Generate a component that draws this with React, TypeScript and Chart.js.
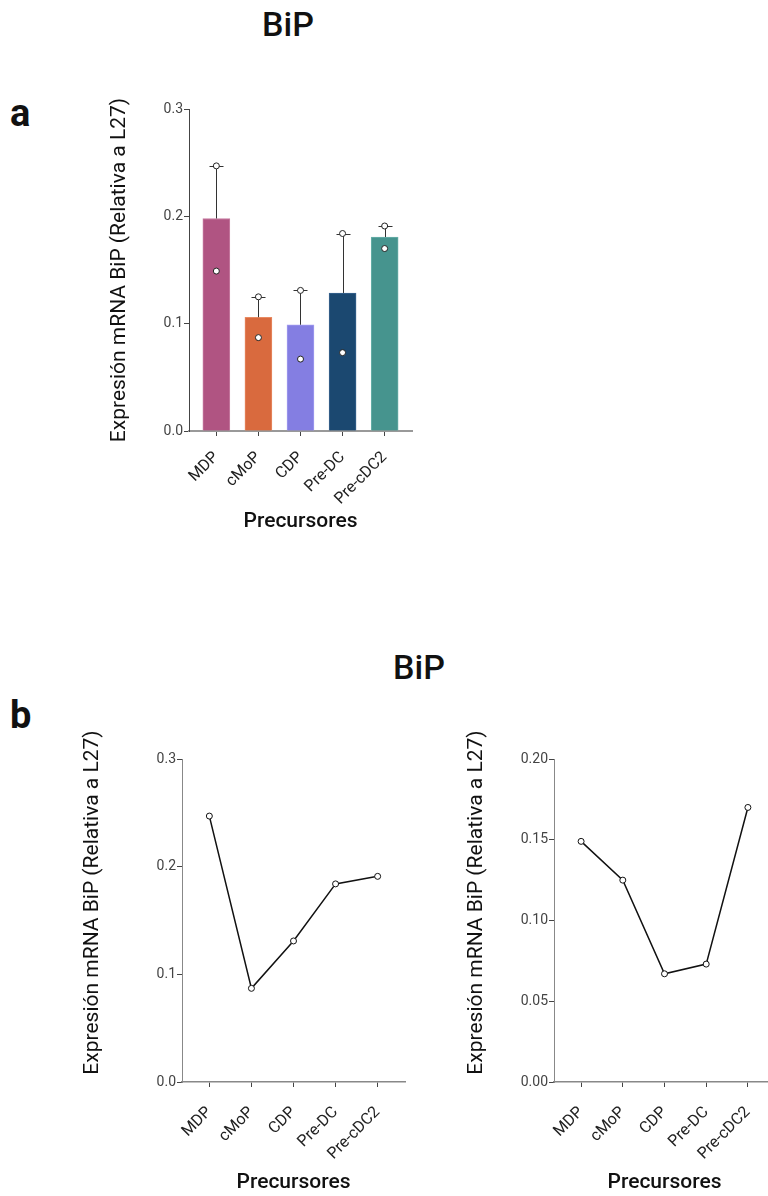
import React, { useEffect, useRef } from 'react';
import { Chart, registerables } from 'chart.js';

Chart.register(...registerables);

const categories = ['MDP', 'cMoP', 'CDP', 'Pre-DC', 'Pre-cDC2'];
const barMeans = [0.198, 0.106, 0.099, 0.1286, 0.1807];
const replicate1 = [0.247, 0.087, 0.131, 0.184, 0.191];
const replicate2 = [0.149, 0.125, 0.067, 0.073, 0.17];
const barColors = ['#B05482', '#D96A3E', '#847EE2', '#1B4870', '#46948E'];
const barEdgeColors = ['#C77BA1', '#E88A62', '#A29DF0', '#3A6590', '#6AB0AA'];
const yTitle = 'Expresión mRNA BiP (Relativa a L27)';
const xTitle = 'Precursores';
const chartTitle = 'BiP';

const FONT = 'Roboto, "Noto Sans", sans-serif';
Chart.defaults.font.family = FONT;

function xScale(axisHeight: number, borderColor: string, borderWidth: number, titlePadBottom: number, labelPad: number) {
  return {
    type: 'linear',
    min: -0.65,
    max: 4.65,
    offset: false,
    afterBuildTicks: (s: any) => {
      s.ticks = categories.map((_, i) => ({ value: i }));
    },
    afterFit: (s: any) => {
      s.height = axisHeight;
    },
    ticks: {
      autoSkip: false,
      minRotation: 45,
      maxRotation: 45,
      padding: labelPad,
      color: '#222',
      font: { family: FONT, size: 16 },
      callback: (v: any) => categories[v] ?? '',
    },
    grid: { display: true, offset: false, drawOnChartArea: false, drawTicks: true, tickLength: 5, color: '#444' },
    border: { display: true, color: borderColor, width: borderWidth },
    title: {
      display: true,
      text: xTitle,
      color: '#111',
      font: { family: FONT, size: 21, weight: '500' },
      padding: { top: 0, bottom: titlePadBottom },
    },
  };
}

function yScale(
  max: number,
  step: number,
  decimals: number,
  axisWidth: number,
  titlePadTop: number,
  borderColor: string,
  titleShift: number
) {
  return {
    type: 'linear',
    min: 0,
    max,
    afterFit: (s: any) => {
      s.width = axisWidth;
    },
    afterUpdate: (s: any) => {
      if (titleShift && !s.__titlePatched) {
        const orig = s.drawTitle.bind(s);
        s.drawTitle = () => {
          const c = s.ctx;
          c.save();
          c.translate(0, titleShift);
          orig();
          c.restore();
        };
        s.__titlePatched = true;
      }
    },
    ticks: {
      stepSize: step,
      color: '#444',
      font: { family: FONT, size: 14 },
      padding: 1,
      callback: (v: any) => Number(v).toFixed(decimals),
    },
    grid: { display: true, drawOnChartArea: false, drawTicks: true, tickLength: 5, color: '#444' },
    border: { display: true, color: borderColor, width: 1 },
    title: {
      display: true,
      text: yTitle,
      color: '#111',
      font: { family: FONT, size: 21 },
      padding: { top: titlePadTop, bottom: 0 },
    },
  };
}

const errorBarPlugin = {
  id: 'errorBars',
  afterDatasetDraw(chart: any, args: any) {
    if (args.index !== 0) return;
    const { ctx } = chart;
    const x = chart.scales.x;
    const y = chart.scales.y;
    ctx.save();
    ctx.strokeStyle = '#333';
    ctx.lineWidth = 1;
    categories.forEach((_, i) => {
      const upper = Math.max(replicate1[i], replicate2[i]);
      const px = Math.round(x.getPixelForValue(i)) + 0.5;
      const y0 = y.getPixelForValue(barMeans[i]);
      const y1 = Math.round(y.getPixelForValue(upper)) + 0.5;
      ctx.beginPath();
      ctx.moveTo(px, y0);
      ctx.lineTo(px, y1);
      ctx.moveTo(px - 7, y1);
      ctx.lineTo(px + 7, y1);
      ctx.stroke();
    });
    ctx.restore();
  },
};

function baseOptions(padding: any, scales: any) {
  return {
    responsive: false,
    maintainAspectRatio: false,
    animation: false,
    events: [],
    layout: { padding },
    plugins: { legend: { display: false }, tooltip: { enabled: false }, title: { display: false } },
    scales,
  };
}

const barConfig = () => ({
  type: 'bar',
  data: {
    datasets: [
      {
        type: 'bar',
        data: categories.map((_, i) => ({ x: i, y: barMeans[i] })),
        backgroundColor: barColors,
        borderColor: barEdgeColors,
        borderWidth: 1,
        barThickness: 27,
        order: 1,
      },
      {
        type: 'line',
        data: [
          ...categories.map((_, i) => ({ x: i, y: replicate1[i] })),
          ...categories.map((_, i) => ({ x: i, y: replicate2[i] })),
        ],
        showLine: false,
        pointRadius: 3,
        pointBackgroundColor: '#ffffff',
        pointBorderColor: '#222',
        pointBorderWidth: 1,
        order: 0,
      },
    ],
  },
  options: baseOptions(
    { left: 0, top: 21, right: 8, bottom: 0 },
    {
      x: xScale(103, '#999', 2, 0, 12),
      y: yScale(0.3, 0.1, 1, 89, 7, '#444', 0),
    }
  ),
  plugins: [errorBarPlugin],
});

const lineConfig =
  (values: number[], max: number, step: number, decimals: number, axisWidth: number, titlePadTop: number) => () => ({
    type: 'line',
    data: {
      datasets: [
        {
          data: categories.map((_, i) => ({ x: i, y: values[i] })),
          borderColor: '#111',
          borderWidth: 1.5,
          pointRadius: 3,
          pointBackgroundColor: '#ffffff',
          pointBorderColor: '#111',
          pointBorderWidth: 1,
          tension: 0,
        },
      ],
    },
    options: baseOptions(
      { left: 0, top: 69, right: 10, bottom: 0 },
      {
        x: xScale(114, '#888', 1.5, 1, 16),
        y: yScale(max, step, decimals, axisWidth, titlePadTop, '#888', -18),
      }
    ),
  });

type Box = { left: number; top: number; width: number; height: number };

function ChartCanvas({ box, config }: { box: Box; config: () => any }) {
  const ref = useRef<HTMLCanvasElement>(null);
  useEffect(() => {
    const chart = new Chart(ref.current as HTMLCanvasElement, config());
    return () => chart.destroy();
  }, []);
  return (
    <canvas
      ref={ref}
      width={box.width}
      height={box.height}
      style={{ position: 'absolute', left: box.left, top: box.top, width: box.width, height: box.height }}
    />
  );
}

const titleStyle: React.CSSProperties = {
  position: 'absolute',
  width: 200,
  textAlign: 'center',
  fontSize: 34,
  fontWeight: 500,
  lineHeight: '34px',
  color: '#111',
};

const letterStyle: React.CSSProperties = {
  position: 'absolute',
  fontSize: 38,
  fontWeight: 700,
  lineHeight: '38px',
  color: '#111',
};

export default function App() {
  return (
    <div
      style={{
        position: 'absolute',
        left: 0,
        top: 0,
        width: 768,
        height: 1196,
        overflow: 'hidden',
        background: '#ffffff',
        fontFamily: FONT,
      }}
    >
      <div style={{ ...titleStyle, left: 188, top: 7 }}>{chartTitle}</div>
      <div style={{ ...letterStyle, left: 10, top: 94 }}>a</div>
      <ChartCanvas box={{ left: 100, top: 88, width: 320, height: 446 }} config={barConfig} />

      <div style={{ ...titleStyle, left: 319, top: 650 }}>{chartTitle}</div>
      <div style={{ ...letterStyle, left: 10, top: 696 }}>b</div>
      <ChartCanvas
        box={{ left: 70, top: 690, width: 345, height: 506 }}
        config={lineConfig(replicate1, 0.3, 0.1, 1, 112, 10)}
      />
      <ChartCanvas
        box={{ left: 440, top: 690, width: 345, height: 506 }}
        config={lineConfig(replicate2, 0.2, 0.05, 2, 114, 24)}
      />
    </div>
  );
}
